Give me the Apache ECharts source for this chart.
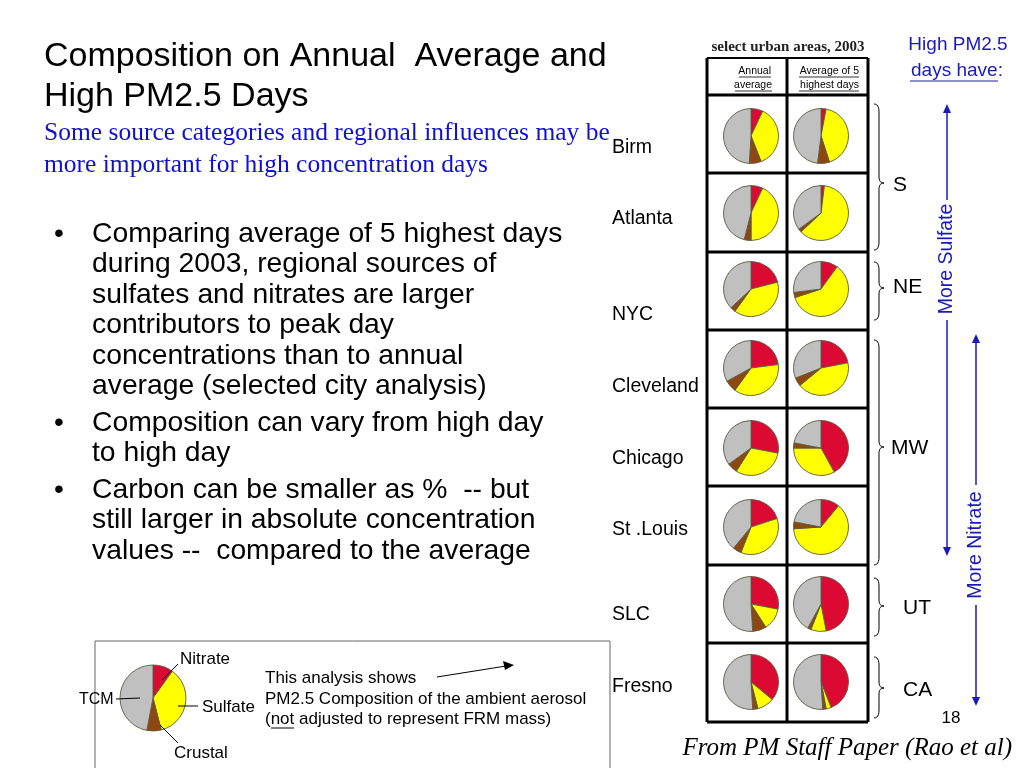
<!DOCTYPE html>
<html><head><meta charset="utf-8">
<script src="https://cdn.jsdelivr.net/npm/echarts@6/dist/echarts.min.js"></script>
<style>html,body{margin:0;padding:0;background:#fff}#c{width:1024px;height:768px}</style>
</head><body><div id="c"></div>
<script>
// ---- data ----
const cities = ['Birm','Atlanta','NYC','Cleveland','Chicago','St .Louis','SLC','Fresno'];
const components = ['Nitrate','Sulfate','Crustal','TCM'];
const annualNitrate = [7, 7, 21, 23, 28, 20, 28, 36];
const annualSulfate = [37, 43, 39, 37, 31, 36, 13, 10];
const annualCrustal = [7, 4, 3, 7, 6, 5, 8, 3];
const annualTCM     = [49, 46, 37, 33, 35, 39, 51, 51];
const highNitrate   = [3, 2, 10, 22, 42, 11, 47, 44];
const highSulfate   = [42, 61, 60, 42, 33, 63, 9, 3];
const highCrustal   = [7, 2, 3, 5, 3, 4, 2, 2];
const highTCM       = [48, 35, 27, 31, 22, 22, 42, 51];
const legendPie     = [10, 36, 7, 47];
const regions = ['S','NE','MW','UT','CA'];
const bullets = [
  ['Comparing average of 5 highest days','during 2003, regional sources of','sulfates and nitrates are larger','contributors to peak day','concentrations than to annual','average (selected city analysis)'],
  ['Composition can vary from high day','to high day'],
  ['Carbon can be smaller as %  -- but','still larger in absolute concentration','values --  compared to the average']
];

// ---- layout ----
const colors = ['#dc0a32','#ffff00','#8f4710','#c0c0c0'];
const rowCenters = [136, 213, 289, 368, 448, 527, 604, 682];
const rowLines = [95, 173, 252, 330, 408, 486, 565, 643, 722];
const colX = [751, 821];
const cityLabelY = [148, 219, 315, 387, 459, 530, 615, 687];
const SANS = "'Liberation Sans', Arial, sans-serif";
const SERIF = "'Liberation Serif', 'Times New Roman', serif";

function pieData(vals){ return vals.map((v,i)=>({name:components[i], value:v, itemStyle:{color:colors[i]}})); }
function pieSeries(vals, cx, cy, r){
  return {type:'pie', center:[cx,cy], radius:r, startAngle:90, clockwise:true, silent:true,
    animation:false, label:{show:false}, labelLine:{show:false},
    itemStyle:{borderColor:'#5a5a40', borderWidth:0.9}, data:pieData(vals)};
}
const series = [];
cities.forEach((c,i)=>{
  series.push(pieSeries([annualNitrate[i],annualSulfate[i],annualCrustal[i],annualTCM[i]], colX[0], rowCenters[i], 27.5));
  series.push(pieSeries([highNitrate[i],highSulfate[i],highCrustal[i],highTCM[i]], colX[1], rowCenters[i], 27.5));
});
series.push(pieSeries(legendPie, 153, 698, 33));

const g = [];
function text(t,x,y,font,fill,align,extra){ g.push(Object.assign({type:'text', x:x, y:y, z:10, style:{text:t, font:font, fill:fill||'#000', align:align||'left', verticalAlign:'middle'}}, extra||{})); }
function line(x1,y1,x2,y2,stroke,w){ g.push({type:'line', z:5, shape:{x1,y1,x2,y2}, style:{stroke:stroke||'#000', lineWidth:w||1}}); }
function poly(pts,fill){ g.push({type:'polygon', z:5, shape:{points:pts}, style:{fill:fill}}); }
function quad(p0,p1,p2,n){ const out=[]; for(let k=0;k<=n;k++){const t=k/n; out.push([(1-t)*(1-t)*p0[0]+2*(1-t)*t*p1[0]+t*t*p2[0],(1-t)*(1-t)*p0[1]+2*(1-t)*t*p1[1]+t*t*p2[1]]);} return out; }

// Title
text('Composition on Annual  Average and', 44, 57, '34px '+SANS);
text('High PM2.5 Days', 44, 97, '34px '+SANS);
text('Some source categories and regional influences may be', 44, 133, '25.5px '+SERIF, '#1010d0');
text('more important for high concentration days', 44, 165, '25.5px '+SERIF, '#1010d0');

// Bullets
let by = 234;
bullets.forEach((b,bi)=>{
  text('\u2022', 54, by, '28px '+SANS);
  b.forEach((l,li)=>{ text(l, 92, by, '28.3px '+SANS); by += 30.5; });
  by += 6;
});

// City labels
cities.forEach((c,i)=> text(c, 612, cityLabelY[i], '19.5px '+SANS));

// Table
text('select urban areas, 2003', 788, 47, 'bold 15px '+SERIF, '#222', 'center');
line(707, 58, 868, 58, '#000', 2);
line(707, 58, 707, 722, '#000', 3);
line(787, 58, 787, 722, '#000', 3);
line(868, 58, 868, 722, '#000', 3);
rowLines.forEach(y=> line(707, y, 868, y, '#000', 3));
text('Annual', 771, 71, '10.5px '+SANS, '#000', 'right');
text('average', 772, 85, '10.5px '+SANS, '#000', 'right');
line(739, 77, 771, 77, '#000', 0.8); line(735, 91, 772, 91, '#000', 0.8);
text('Average of 5', 859, 71, '10.5px '+SANS, '#000', 'right');
text('highest days', 859, 85, '10.5px '+SANS, '#000', 'right');
line(799, 77, 859, 77, '#000', 0.8); line(799, 91, 859, 91, '#000', 0.8);

// Braces
function brace(x, top, bot, tip){
  const w=5;
  let pts = [];
  pts = pts.concat(quad([x,top],[x+w,top],[x+w,top+8],6));
  pts = pts.concat(quad([x+w,tip-6],[x+w,tip],[x+2*w,tip],6));
  pts = pts.concat(quad([x+2*w,tip],[x+w,tip],[x+w,tip+6],6));
  pts = pts.concat(quad([x+w,bot-8],[x+w,bot],[x,bot],6));
  g.push({type:'polyline', z:5, shape:{points:pts}, style:{stroke:'#000', lineWidth:1, fill:null}});
}
brace(874, 104, 250, 183); text(regions[0], 893, 185, '21px '+SANS);
brace(874, 262, 320, 288); text(regions[1], 893, 287, '21px '+SANS);
brace(874, 340, 565, 447); text(regions[2], 891, 448, '21px '+SANS);
brace(874, 578, 636, 606); text(regions[3], 903, 608, '21px '+SANS);
brace(874, 657, 718, 688); text(regions[4], 903, 690, '21px '+SANS);

// Right arrows
const BLUE = '#1a1ab8';
text('High PM2.5', 958, 45, '19px '+SANS, BLUE, 'center');
text('days have:', 957, 71, '19px '+SANS, BLUE, 'center');
line(910, 81, 998, 81, BLUE, 1);
function varrow(x, top, bot, gapTop, gapBot, label, ly){
  line(x, top+8, x, gapTop, BLUE, 1.5);
  line(x, gapBot, x, bot-8, BLUE, 1.5);
  poly([[x-4,top+9],[x+4,top+9],[x,top]], BLUE);
  poly([[x-4,bot-9],[x+4,bot-9],[x,bot]], BLUE);
  text(label, x, ly, '19.5px '+SANS, BLUE, 'center', {rotation:Math.PI/2});
}
varrow(947, 104, 556, 200, 320, 'More Sulfate', 259);
varrow(976, 334, 706, 485, 605, 'More Nitrate', 545);

text('18', 951, 718, '17px '+SANS, '#000', 'center');
text('From PM Staff Paper (Rao et al)', 1012, 748, 'italic 25px '+SERIF, '#000', 'right');

// Legend box
g.push({type:'rect', z:1, shape:{x:95, y:641, width:515, height:140}, style:{stroke:'#666', lineWidth:1, fill:'#fff'}});
text(components[0], 180, 659, '17px '+SANS);
text('TCM', 79, 700, '16px '+SANS);
text(components[1], 202, 707, '17px '+SANS);
text(components[2], 174, 753, '17px '+SANS);
line(178, 664, 162, 680, '#000', 1);
line(116, 699, 140, 698, '#000', 1);
line(178, 706, 198, 706, '#000', 1);
line(160, 725, 178, 743, '#000', 1);
text('This analysis shows', 265, 678, '17px '+SANS);
text('PM2.5 Composition of the ambient aerosol', 265, 699, '17px '+SANS);
text('(not adjusted to represent FRM mass)', 265, 719, '17px '+SANS);
line(271, 728, 294, 728, '#000', 1);
line(437, 677, 506, 666, '#000', 1);
poly([[503,661],[505,670],[514,665]], '#000');

const chart = echarts.init(document.getElementById('c'));
chart.setOption({animation:false, backgroundColor:'#fff', graphic:g, series:series});
</script></body></html>
